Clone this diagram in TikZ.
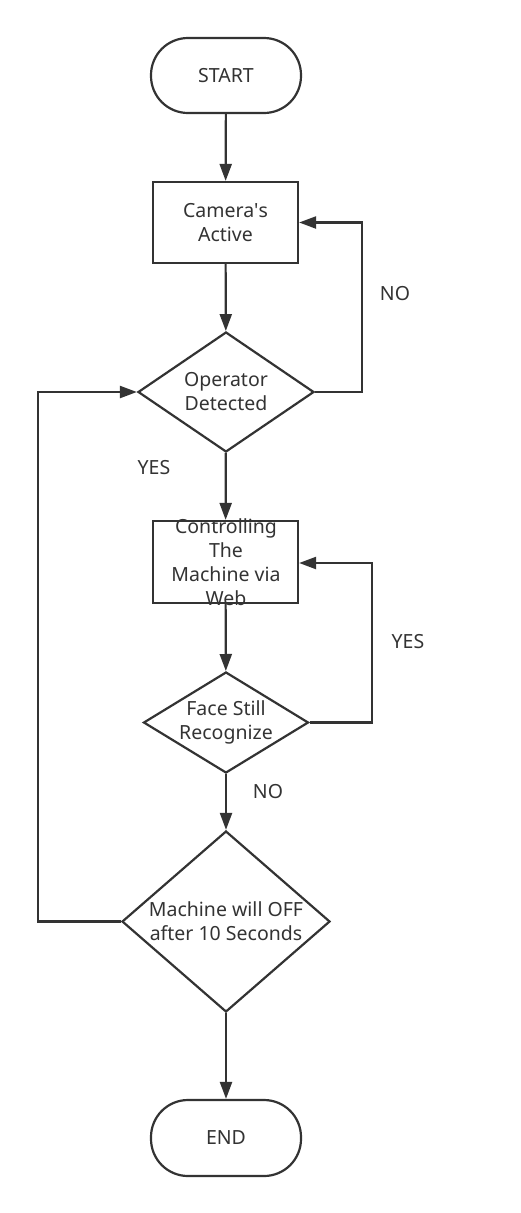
\documentclass[tikz,border=0pt]{standalone}
\usepackage{fontspec}
\setmainfont{Noto Sans}
\usetikzlibrary{shapes.geometric,arrows.meta}
\definecolor{ink}{HTML}{333333}
\begin{document}
\begin{tikzpicture}[x=1pt,y=-1pt,
  every node/.style={text=ink,font=\fontsize{19.5pt}{24pt}\selectfont},
  term/.style={draw=ink,line width=2.2pt,rounded corners=37pt,minimum width=150pt,minimum height=75pt,inner sep=0pt},
  proc/.style={draw=ink,line width=2.2pt,minimum width=145pt,minimum height=81pt,inner sep=0pt},
  dec/.style={draw=ink,line width=2.2pt,diamond,inner sep=0pt},
  txt/.style={align=center,inner sep=0pt},
  lbl/.style={inner sep=0pt},
  conn/.style={draw=ink,line width=2.2pt,-{Triangle[length=17pt,width=12pt]}},
  plain/.style={draw=ink,line width=2.2pt}]
\useasboundingbox (0,0) rectangle (521,1213);
\fill[white] (0,0) rectangle (521,1213);

\node[term] (start) at (226,75.5) {START};
\node[proc] (cam) at (225.5,222.5) {};
\node[txt] (camt) at (cam.center) {Camera\textquotesingle s\\Active};
\node[dec,minimum width=176pt,minimum height=120pt] (op) at (226,392) {};
\node[txt] (opt) at (op.center) {Operator\\Detected};
\node[proc,minimum height=82pt] (ctrl) at (225.5,562) {};
\node[txt] (ctrlt) at (226,562) {Controlling\\The\\Machine via\\Web};
\node[dec,minimum width=165pt,minimum height=101pt] (face) at (226,722.5) {};
\node[txt] (facet) at (face.center) {Face Still\\Recognize};
\node[dec,minimum width=208pt,minimum height=181pt] (mach) at (226,921.5) {};
\node[txt] (macht) at (mach.center) {Machine will OFF\\after 10 Seconds};
\node[term,minimum height=76pt] (end) at (226,1138) {END};

\coordinate (c1) at (362,392);
\coordinate (c2) at (362,222.5);
\coordinate (c3) at (372,722.5);
\coordinate (c4) at (372,563);
\coordinate (c5) at (38,921.5);
\coordinate (c6) at (38,392);

\draw[conn] (start) -- (cam);
\draw[conn] (cam) -- (op);
\draw[conn] (op.east) -- (c1) -- (c2) -- (cam.east);
\draw[conn] (op) -- (ctrl);
\draw[conn] (ctrl) -- (face);
\draw[conn] (face.east) -- (c3) -- (c4) -- (ctrl.east |- c4);
\draw[conn] (face) -- (mach);
\draw[conn] (mach.west) -- (c5) -- (c6) -- (op.west);
\draw[conn] (mach) -- (end);

\node[lbl] (no1) at (395,294) {NO};
\node[lbl] (yes1) at (154,468) {YES};
\node[lbl] (yes2) at (408,642) {YES};
\node[lbl] (no2) at (268,792) {NO};
\end{tikzpicture}
\end{document}
